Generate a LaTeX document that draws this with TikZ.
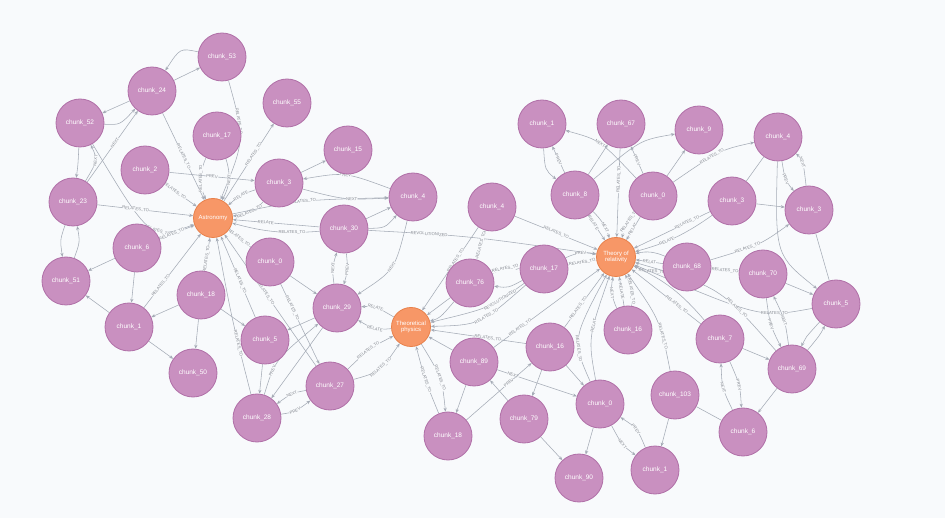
\documentclass[tikz,border=0pt]{standalone}
\usepackage{fontspec}
\setmainfont{Liberation Sans}
\usetikzlibrary{arrows.meta}
\definecolor{bgc}{HTML}{F8FAFC}
\definecolor{chunkfill}{HTML}{C990C0}
\definecolor{chunkline}{HTML}{B06FA7}
\definecolor{hubfill}{HTML}{F79767}
\definecolor{hubline}{HTML}{E8804A}
\definecolor{edgec}{HTML}{A5ABB6}
\definecolor{labc}{HTML}{858991}
\pgfdeclarelayer{bglayer}
\pgfdeclarelayer{edgelayer}
\pgfsetlayers{bglayer,edgelayer,main}
\tikzset{
  chunk/.style={circle, fill=chunkfill, draw=chunkline, line width=0.8pt, minimum size=48pt, inner sep=0pt, text=white, font=\fontsize{6.5}{7}\selectfont},
  hub/.style={circle, fill=hubfill, draw=hubline, line width=0.8pt, minimum size=39pt, inner sep=0pt, text=white, font=\fontsize{6}{6.5}\selectfont, align=center},
  rel/.style={draw=edgec, line width=0.55pt, -{Stealth[length=4pt,width=3.2pt]}},
  plain/.style={draw=edgec, line width=0.55pt},
  lab/.style={sloped, pos=0.42, font=\fontsize{4.2}{4.2}\selectfont, text=labc, fill=bgc, inner sep=0.2pt},
}
\begin{document}
\begin{tikzpicture}[x=1pt,y=-1pt]
\begin{pgfonlayer}{bglayer}
\fill[bgc] (0,0) rectangle (945,518);
\end{pgfonlayer}
\useasboundingbox (0,0) rectangle (945,518);
% ---------- left cluster ----------
\node[chunk] (l53) at (222,57) {chunk\_53};
\node[chunk] (l24) at (152,91) {chunk\_24};
\node[chunk] (l55) at (287,103) {chunk\_55};
\node[chunk] (l52) at (80,123) {chunk\_52};
\node[chunk] (l17) at (217,136) {chunk\_17};
\node[chunk] (l15) at (348,150) {chunk\_15};
\node[chunk] (l2) at (145,170) {chunk\_2};
\node[chunk] (l3) at (279,183) {chunk\_3};
\node[chunk] (l4) at (413,197) {chunk\_4};
\node[chunk] (l23) at (73,202) {chunk\_23};
\node[hub] (A) at (213,218) {Astronomy};
\node[chunk] (l30) at (344,229) {chunk\_30};
\node[chunk] (l6) at (137,248) {chunk\_6};
\node[chunk] (l0) at (270,262) {chunk\_0};
\node[chunk] (l51) at (66,281) {chunk\_51};
\node[chunk] (l18) at (201,295) {chunk\_18};
\node[chunk] (l29) at (337,308) {chunk\_29};
\node[chunk] (l1) at (129,327) {chunk\_1};
\node[hub] (TP) at (411,327) {Theoretical\\physics};
\node[chunk] (l5) at (265,340) {chunk\_5};
\node[chunk] (l50) at (193,373) {chunk\_50};
\node[chunk] (l27) at (330,386) {chunk\_27};
\node[chunk] (l28) at (257,418) {chunk\_28};
% ---------- right cluster ----------
\node[chunk] (r1) at (542,124) {chunk\_1};
\node[chunk] (r67) at (621,124) {chunk\_67};
\node[chunk] (r9) at (699,130) {chunk\_9};
\node[chunk] (r4) at (778,137) {chunk\_4};
\node[chunk] (r8) at (575,195) {chunk\_8};
\node[chunk] (r0) at (653,196) {chunk\_0};
\node[chunk] (r3a) at (732,201) {chunk\_3};
\node[chunk] (r3b) at (809,210) {chunk\_3};
\node[chunk] (m4) at (492,207) {chunk\_4};
\node[hub] (T) at (616,257) {Theory of\\relativity};
\node[chunk] (r17) at (544,269) {chunk\_17};
\node[chunk] (r76) at (470,283) {chunk\_76};
\node[chunk] (r68) at (687,267) {chunk\_68};
\node[chunk] (r70) at (763,274) {chunk\_70};
\node[chunk] (r5) at (836,304) {chunk\_5};
\node[chunk] (r16a) at (628,330) {chunk\_16};
\node[chunk] (r16b) at (550,347) {chunk\_16};
\node[chunk] (r7) at (720,339) {chunk\_7};
\node[chunk] (r89) at (474,362) {chunk\_89};
\node[chunk] (r69) at (792,369) {chunk\_69};
\node[chunk] (r0b) at (600,404) {chunk\_0};
\node[chunk] (r103) at (675,395) {chunk\_103};
\node[chunk] (r79) at (524,419) {chunk\_79};
\node[chunk] (r18) at (448,436) {chunk\_18};
\node[chunk] (r6) at (743,432) {chunk\_6};
\node[chunk] (r90) at (579,478) {chunk\_90};
\node[chunk] (r1b) at (655,470) {chunk\_1};
\begin{pgfonlayer}{edgelayer}
% Astronomy relations
\draw[rel] (l53) .. controls (245,140) .. node[lab,pos=0.3]{RELATES\_TO} (A);
\draw[rel] (l24) -- node[lab,pos=0.5]{RELATES\_TO} (A);
\draw[rel] (l17) to[bend right=24] node[lab,pos=0.5]{RELATES\_TO} (A);
\draw[rel] (l17) to[bend left=24] node[lab,pos=0.5]{NEXT} (A);
\draw[rel] (l2) -- node[lab,pos=0.3]{RELATES\_TO} (A);
\draw[rel] (l52) .. controls (150,240) .. node[lab,pos=0.62]{RELATES\_TO} (A);
\draw[rel] (l23) -- node[lab,pos=0.4]{RELATES\_TO} (A);
\draw[rel] (A) -- node[lab,pos=0.6]{RELATES\_TO} (l55);
\draw[rel] (l3) to[bend right=12] node[lab,pos=0.5]{RELATE} (A);
\draw[rel] (l3) to[bend left=22] node[lab,pos=0.5]{RELATES\_TO} (A);
\draw[rel] (l6) -- node[lab,pos=0.35]{RELATES\_TO} (A);
\draw[rel] (l30) -- node[lab,pos=0.62]{RELATE} (A);
\draw[rel] (l30) to[bend left=10] node[lab,pos=0.3]{RELATES\_TO} (A);
\draw[rel] (l0) -- node[lab,pos=0.55]{RELATES\_TO} (A);
\draw[rel] (l18) -- node[lab,pos=0.35]{RELATES\_TO} (A);
\draw[rel] (l1) -- node[lab,pos=0.3]{RELATES\_TO} (A);
\draw[rel] (l5) -- node[lab,pos=0.45]{RELATES\_TO} (A);
\draw[rel] (l28) .. controls (232,320) .. node[lab,pos=0.3]{RELATES\_TO} (A);
\draw[rel] (l27) -- node[lab,pos=0.55]{RELATES\_TO} (A);
\draw[rel] (A) .. controls (300,200) .. node[lab,pos=0.5]{RELATES\_TO} (l4);
% left chunk links
\draw[rel] (l24) -- (l53);
\draw[rel] (l53) .. controls (180,48) .. (l24);
\draw[rel] (l24) -- (l52);
\draw[rel] (l52) .. controls (120,125) .. (l24);
\draw[rel] (l52) .. controls (78,165) .. (l23);
\draw[rel] (l23) .. controls (98,160) .. node[lab,pos=0.5]{NEXT} (l52);
\draw[rel] (l23) -- node[lab,pos=0.55]{NEXT} (l24);
\draw[rel] (l2) -- node[lab,pos=0.5]{PREV} (l3);
\draw[rel] (l23) .. controls (60,240) .. (l51);
\draw[rel] (l51) .. controls (80,242) .. (l23);
\draw[rel] (l6) -- (l51);
\draw[rel] (l1) -- (l51);
\draw[rel] (l6) -- (l1);
\draw[rel] (l18) -- (l1);
\draw[rel] (l1) -- (l50);
\draw[rel] (l18) -- (l50);
\draw[rel] (l18) -- (l5);
\draw[rel] (l5) -- (l28);
\draw[rel] (l0) -- (l29);
\draw[rel] (l29) -- (l5);
\draw[rel] (l0) -- node[lab,pos=0.3]{RELATES\_TO} (l27);
\draw[rel] (l3) -- (l15);
\draw[rel] (l4) .. controls (345,172) .. node[lab,pos=0.5]{PREV} (l3);
\draw[rel] (l3) .. controls (345,200) .. node[lab,pos=0.6]{NEXT} (l4);
\draw[rel] (l30) -- (l4);
\draw[rel] (l30) .. controls (385,228) .. (l4);
\draw[rel] (l30) .. controls (348,270) .. node[lab,pos=0.5]{PREV} (l29);
\draw[rel] (l29) .. controls (332,268) .. node[lab,pos=0.5]{NEXT} (l30);
\draw[rel] (l4) .. controls (395,270) .. node[lab,pos=0.5]{NEXT} (l29);
\draw[rel] (l29) -- (l28);
\draw[rel] (l28) .. controls (275,360) .. node[lab,pos=0.3]{PREV} (l29);
\draw[rel] (l27) .. controls (292,393) .. node[lab,pos=0.5]{NEXT} (l28);
\draw[rel] (l28) .. controls (295,412) .. node[lab,pos=0.5]{PREV} (l27);
\draw[rel] (l27) .. controls (370,348) .. node[lab,pos=0.45]{RELATES\_TO} (TP);
\draw[rel] (l27) .. controls (380,372) .. node[lab,pos=0.55]{RELATES\_TO} (TP);
\draw[rel] (TP) .. controls (375,306) .. node[lab,pos=0.5]{RELATE} (l29);
\draw[rel] (TP) .. controls (375,330) .. node[lab,pos=0.5]{RELATE} (l29);
\draw[rel] (l30) .. controls (470,236) .. node[lab,pos=0.25]{REVOLUTIONIZED} (T);
% Theoretical physics relations
\draw[rel] (m4) -- node[lab,pos=0.4]{RELATES\_TO} (TP);
\draw[rel] (r76) -- (TP);
\draw[rel] (r76) .. controls (440,318) .. (TP);
\draw[rel] (r17) .. controls (480,325) .. node[lab,pos=0.4]{RELATES\_TO} (TP);
\draw[rel] (r17) .. controls (490,308) .. node[lab,pos=0.3]{REVOLUTIONIZED} (TP);
\draw[rel] (r16b) -- node[lab,pos=0.4]{RELATES\_TO} (TP);
\draw[rel] (r89) -- (TP);
\draw[rel] (r18) .. controls (425,380) .. node[lab,pos=0.5]{RELATES\_TO} (TP);
\draw[rel] (TP) .. controls (442,378) .. node[lab,pos=0.5]{RELATES\_TO} (r18);
% Theory of relativity relations
\draw[rel] (r67) -- node[lab,pos=0.35]{RELATES\_TO} (T);
\draw[rel] (r8) -- node[lab,pos=0.3]{RELATE} (T);
\draw[rel] (r8) to[bend left=14] node[lab,pos=0.65]{NEXT} (T);
\draw[rel] (r0) -- node[lab,pos=0.55]{RELAT} (T);
\draw[rel] (r0) to[bend right=14] node[lab,pos=0.35]{RELATES\_TO} (T);
\draw[rel] (r3a) -- node[lab,pos=0.3]{RELATES\_TO} (T);
\draw[rel] (r3a) to[bend left=10] node[lab,pos=0.62]{RELATE} (T);
\draw[rel] (r68) -- node[lab,pos=0.5]{RELAT} (T);
\draw[rel] (r68) to[bend left=18] node[lab,pos=0.35]{RELATES\_TO} (T);
\draw[rel] (r68) to[bend right=18] (T);
\draw[rel] (r5) .. controls (760,318) .. node[lab,pos=0.3]{RELATES\_TO} (T);
\draw[rel] (r7) -- node[lab,pos=0.35]{RELATES\_TO} (T);
\draw[rel] (r7) to[bend right=12] (T);
\draw[rel] (r69) .. controls (720,287) .. node[lab,pos=0.3]{RELATES\_TO} (T);
\draw[rel] (r16a) -- node[lab,pos=0.5]{RELATE} (T);
\draw[rel] (r16a) to[bend left=18] node[lab,pos=0.5]{NEXT} (T);
\draw[rel] (r16a) to[bend right=18] node[lab,pos=0.45]{RELATES\_TO} (T);
\draw[rel] (r16b) -- node[lab,pos=0.35]{RELATES\_TO} (T);
\draw[rel] (r0b) .. controls (572,340) .. node[lab,pos=0.35]{RELATES\_TO} (T);
\draw[rel] (r0b) .. controls (588,338) .. node[lab,pos=0.62]{RELAT} (T);
\draw[rel] (r103) .. controls (660,320) .. node[lab,pos=0.3]{RELATES\_TO} (T);
\draw[rel] (r17) -- node[lab,pos=0.5]{RELATES\_TO} (T);
\draw[rel] (r17) to[bend left=18] node[lab,pos=0.5]{PREV} (T);
\draw[rel] (m4) -- node[lab,pos=0.5]{RELATES\_TO} (T);
\draw[rel] (r89) -- node[lab,pos=0.25]{RELATES\_TO} (T);
% right chunk links
\draw[rel] (r8) -- node[lab,pos=0.5]{PREV} (r1);
\draw[rel] (r1) .. controls (545,170) .. (r8);
\draw[rel] (r0) .. controls (600,140) .. node[lab,pos=0.5]{NEXT} (r1);
\draw[rel] (r0) -- node[lab,pos=0.5]{PREV} (r67);
\draw[rel] (r8) -- (r67);
\draw[rel] (r0) -- (r9);
\draw[rel] (r8) .. controls (640,140) .. (r9);
\draw[rel] (r0) .. controls (720,150) .. node[lab,pos=0.4]{RELATES\_TO} (r4);
\draw[plain] (r3a) -- (r4);
\draw[rel] (r3a) -- (r3b);
\draw[rel] (r4) .. controls (785,180) .. node[lab,pos=0.5]{PREV} (r3b);
\draw[rel] (r3b) .. controls (803,160) .. node[lab,pos=0.5]{NEXT} (r4);
\draw[rel] (r4) .. controls (775,255) .. (r5);
\draw[plain] (r3b) -- (r5);
\draw[rel] (r68) .. controls (760,245) .. node[lab,pos=0.35]{RELATES\_TO} (r3b);
\draw[rel] (r70) -- (r5);
\draw[rel] (r70) .. controls (770,325) .. node[lab,pos=0.5]{PREV} (r69);
\draw[rel] (r69) .. controls (785,320) .. node[lab,pos=0.5]{NEXT} (r70);
\draw[rel] (r69) .. controls (820,335) .. (r5);
\draw[rel] (r5) .. controls (805,338) .. (r69);
\draw[rel] (r7) -- (r69);
\draw[rel] (r7) .. controls (740,385) .. node[lab,pos=0.5]{PREV} (r6);
\draw[rel] (r6) .. controls (722,388) .. node[lab,pos=0.5]{NEXT} (r7);
\draw[rel] (r69) -- (r6);
\draw[plain] (r103) -- (r6);
\draw[rel] (r103) -- (r1b);
\draw[rel] (r0b) .. controls (622,445) .. node[lab,pos=0.5]{NEXT} (r1b);
\draw[rel] (r1b) .. controls (637,428) .. node[lab,pos=0.5]{PREV} (r0b);
\draw[rel] (r0b) -- (r90);
\draw[rel] (r79) -- (r90);
\draw[rel] (r16b) -- (r79);
\draw[rel] (r16b) -- (r0b);
\draw[rel] (r89) -- (r18);
\draw[rel] (r79) -- (r89);
\draw[rel] (r89) -- node[lab,pos=0.2]{NEXT} (r0b);
\draw[rel] (r18) -- node[lab,pos=0.65]{PREV} (r16b);
\draw[rel] (r76) -- node[lab,pos=0.5]{RELATES\_TO} (m4);
\draw[rel] (r76) .. controls (505,268) .. node[lab,pos=0.5]{RELATES\_TO} (r17);
\draw[rel] (r17) .. controls (508,288) .. (r76);
\draw[rel] (r68) -- node[lab,pos=0.5]{RELATES\_TO} (r70);
\end{pgfonlayer}
\end{tikzpicture}
\end{document}
